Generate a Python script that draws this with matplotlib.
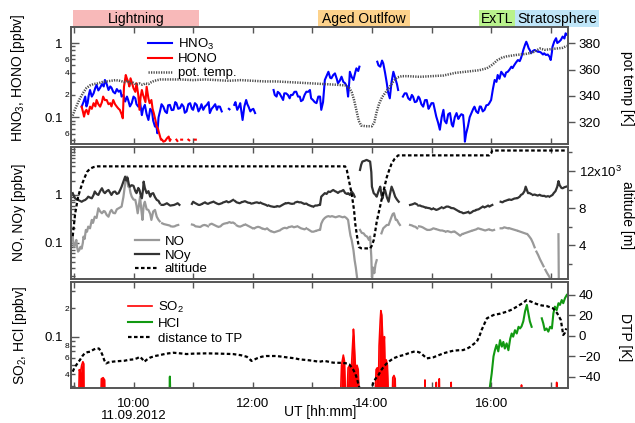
import numpy as np
import matplotlib.pyplot as plt
from matplotlib.patches import Rectangle

plt.rcParams['font.family'] = ['Liberation Sans', 'DejaVu Sans']
plt.rcParams['mathtext.fontset'] = 'custom'
plt.rcParams['mathtext.rm'] = 'Liberation Sans'
plt.rcParams['mathtext.it'] = 'Liberation Sans:italic'
plt.rcParams['mathtext.bf'] = 'Liberation Sans:bold'

nan = np.nan

# flight phases (UT in hours)
phase_names = ['Lightning', 'Aged Outlfow', 'ExTL', 'Stratosphere']
phase_start = [8.98, 13.10, 15.80, 16.40]
phase_end = [11.10, 14.64, 16.40, 17.81]
phase_colors = ['#f8b9b9', '#fdd28b', '#b9f28c', '#bfe5f8']

hour_ticks = [9, 10, 11, 12, 13, 14, 15, 16, 17]
hour_labels = ['', '10:00\n11.09.2012', '', '12:00', '', '14:00', '', '16:00', '']

# ---- top panel: HNO3, HONO [ppbv], potential temperature [K]
hno3 = [
    (9.13, 0.139), (9.16, 0.16), (9.19, 0.19), (9.21, 0.14), (9.23, 0.155), (9.25, 0.20),
    (9.27, 0.233), (9.30, 0.19), (9.33, 0.21), (9.36, 0.25), (9.38, 0.272), (9.41, 0.23),
    (9.44, 0.25), (9.47, 0.28), (9.50, 0.26), (9.52, 0.318), (9.55, 0.28), (9.58, 0.233),
    (9.61, 0.26), (9.63, 0.25), (9.66, 0.22), (9.69, 0.21), (9.72, 0.24), (9.75, 0.221),
    (9.78, 0.23), (9.80, 0.19), (9.83, 0.20), (9.86, 0.163), (9.89, 0.19), (9.91, 0.171),
    (9.94, 0.14), (9.97, 0.155), (10.00, 0.19), (10.03, 0.18), (10.05, 0.15), (10.08, 0.139),
    (10.11, 0.16), (10.14, 0.107), (10.16, 0.13), (10.19, 0.147), (10.22, 0.11), (10.25, 0.092),
    (10.28, 0.13), (10.31, 0.12), (10.33, 0.09), (10.36, 0.075), (10.38, 0.08), (10.40, 0.061),
    (10.42, 0.10), (10.45, 0.126), (10.47, 0.15), (10.50, 0.139), (10.53, 0.12), (10.56, 0.114),
    (10.58, 0.145), (10.61, 0.147), (10.64, 0.125), (10.67, 0.126), (10.70, 0.16), (10.72, 0.155),
    (10.75, 0.13), (10.78, 0.133), (10.81, 0.15), (10.84, 0.139), (10.86, 0.115), (10.89, 0.12),
    (10.92, 0.15), (10.95, 0.155), (10.98, 0.13), (11.00, 0.126), (11.03, 0.155), (11.06, 0.147),
    (11.09, 0.12), (11.12, 0.133), (11.14, 0.15), (11.17, 0.126), (11.20, 0.14), (11.23, 0.147),
    (11.26, 0.16), (11.28, 0.114), (11.31, 0.13), (11.34, 0.139), (11.37, 0.15), (11.40, 0.126),
    (11.42, 0.14), (11.45, 0.139), (11.48, 0.12), (11.54, nan), (11.60, 0.13), (11.61, 0.128),
    (11.65, nan), (11.69, 0.147), (11.71, 0.16), (11.74, 0.126), (11.77, 0.14), (11.79, 0.155),
    (11.81, 0.12), (11.83, 0.092), (11.86, 0.14), (11.89, 0.171), (11.91, 0.15), (11.93, 0.139),
    (11.96, 0.12), (11.98, 0.126), (12.01, 0.13), (12.04, 0.114), (12.20, nan),
    (12.35, 0.233), (12.37, 0.20), (12.40, 0.19), (12.42, 0.22), (12.45, 0.21), (12.48, 0.19),
    (12.51, 0.171), (12.53, 0.21), (12.56, 0.21), (12.59, 0.20), (12.62, 0.18), (12.64, 0.20),
    (12.67, 0.20), (12.70, 0.22), (12.73, 0.221), (12.76, 0.19), (12.79, 0.19), (12.81, 0.165),
    (12.84, 0.171), (12.87, 0.20), (12.90, 0.221), (12.93, 0.22), (12.96, 0.233), (12.98, 0.18),
    (13.01, 0.171), (13.04, 0.16), (13.07, 0.155), (13.10, 0.19), (13.13, 0.19), (13.15, 0.126),
    (13.18, 0.16), (13.21, 0.318), (13.24, 0.36), (13.27, 0.41), (13.30, 0.34), (13.32, 0.335),
    (13.35, 0.37), (13.38, 0.39), (13.41, 0.33), (13.43, 0.287), (13.46, 0.31), (13.49, 0.352),
    (13.52, 0.30), (13.55, 0.287), (13.58, 0.26), (13.60, 0.19), (13.62, 0.30), (13.63, 0.41),
    (13.66, 0.35), (13.69, 0.318), (13.72, 0.40), (13.74, 0.456), (13.77, 0.42), (13.79, 0.48),
    (13.95, nan), (14.09, 0.56), (14.11, 0.50), (14.14, 0.48), (14.17, 0.58), (14.19, 0.533),
    (14.22, 0.40), (14.25, 0.287), (14.27, 0.22), (14.30, 0.18), (14.33, 0.30), (14.36, 0.41),
    (14.38, 0.36), (14.40, 0.318), (14.42, 0.28), (14.44, 0.233), (14.48, nan),
    (14.52, 0.19), (14.55, 0.21), (14.58, 0.21), (14.61, 0.18), (14.64, 0.171), (14.67, 0.20),
    (14.69, 0.19), (14.72, 0.16), (14.75, 0.163), (14.78, 0.19), (14.80, 0.18), (14.83, 0.15),
    (14.86, 0.139), (14.89, 0.17), (14.92, 0.171), (14.95, 0.13), (14.97, 0.139), (15.00, 0.155),
    (15.03, 0.155), (15.06, 0.12), (15.08, 0.102), (15.11, 0.085), (15.14, 0.068), (15.17, 0.10),
    (15.20, 0.126), (15.22, 0.09), (15.25, 0.083), (15.28, 0.11), (15.31, 0.114), (15.34, 0.08),
    (15.36, 0.075), (15.39, 0.10), (15.42, 0.114), (15.45, 0.095), (15.47, 0.102), (15.50, 0.11),
    (15.53, 0.107), (15.55, 0.07), (15.56, 0.047), (15.58, 0.06), (15.61, 0.075), (15.64, 0.10),
    (15.67, 0.114), (15.70, 0.13), (15.72, 0.139), (15.75, 0.12), (15.78, 0.114), (15.81, 0.14),
    (15.83, 0.139), (15.86, 0.12), (15.89, 0.126), (15.92, 0.145), (15.95, 0.147), (15.97, 0.155),
    (16.00, 0.171), (16.03, 0.24), (16.06, 0.318), (16.09, 0.30), (16.11, 0.371), (16.14, 0.33),
    (16.17, 0.41), (16.20, 0.38), (16.23, 0.352), (16.25, 0.40), (16.28, 0.41), (16.31, 0.44),
    (16.34, 0.48), (16.36, 0.46), (16.39, 0.506), (16.42, 0.55), (16.45, 0.59), (16.48, 0.57),
    (16.50, 0.622), (16.52, 0.70), (16.54, 0.805), (16.57, 0.95), (16.59, 1.04), (16.61, 0.95),
    (16.63, 0.85), (16.65, 0.80), (16.67, 0.727), (16.70, 0.78), (16.73, 0.805), (16.76, 0.78),
    (16.79, 0.76), (16.81, 0.764), (16.84, 0.74), (16.87, 0.70), (16.89, 0.727), (16.92, 0.69),
    (16.95, 0.70), (16.98, 0.654), (17.00, 0.59), (17.02, 0.75), (17.03, 0.89), (17.06, 1.05),
    (17.09, 1.16), (17.11, 1.00), (17.14, 1.04), (17.17, 1.10), (17.20, 1.22), (17.23, 1.15),
    (17.25, 1.35), (17.27, 1.30),
]

hono = [
    (9.13, 0.139), (9.15, 0.12), (9.17, 0.102), (9.19, 0.12), (9.21, 0.126), (9.24, 0.11),
    (9.27, 0.139), (9.30, 0.13), (9.33, 0.155), (9.36, 0.14), (9.38, 0.171), (9.41, 0.15),
    (9.44, 0.139), (9.47, 0.16), (9.49, 0.19), (9.52, 0.17), (9.55, 0.171), (9.58, 0.15),
    (9.61, 0.155), (9.63, 0.14), (9.66, 0.171), (9.69, 0.15), (9.72, 0.139), (9.75, 0.13),
    (9.77, 0.126), (9.80, 0.11), (9.82, 0.097), (9.84, 0.258), (9.87, 0.371), (9.89, 0.33),
    (9.91, 0.302), (9.93, 0.26), (9.95, 0.335), (9.98, 0.28), (10.00, 0.246), (10.03, 0.22),
    (10.05, 0.287), (10.08, 0.20), (10.10, 0.126), (10.12, 0.19), (10.14, 0.233), (10.16, 0.20),
    (10.17, 0.19), (10.20, 0.16), (10.22, 0.258), (10.25, 0.18), (10.27, 0.155), (10.30, 0.171),
    (10.32, 0.13), (10.34, 0.114), (10.37, 0.09), (10.39, 0.075), (10.41, 0.07), (10.43, 0.061),
    (10.46, 0.05), (10.48, 0.05), (10.50, 0.047), (10.53, 0.048), (10.56, 0.052), (10.59, 0.055),
    (10.61, 0.048), (10.62, 0.05), (10.67, nan), (10.72, 0.05), (10.735, 0.048), (10.76, nan),
    (10.80, 0.05), (10.815, 0.05), (10.86, nan), (10.92, 0.05), (10.935, 0.049), (10.98, nan),
    (11.03, 0.05), (11.045, 0.05),
]

pot_temp = [
    (8.98, 325), (9.02, 330), (9.06, 334), (9.10, 338), (9.15, 342), (9.21, 346), (9.27, 348),
    (9.33, 349), (9.40, 349.5), (9.47, 350.5), (9.55, 351), (9.62, 351.5), (9.70, 352),
    (9.77, 351.5), (9.85, 350.5), (9.90, 351.5), (9.95, 349.5), (10.00, 350), (10.05, 348.5),
    (10.10, 349.5), (10.15, 348.5), (10.20, 349.5), (10.25, 349), (10.30, 350.5), (10.35, 351.5),
    (10.40, 352), (10.45, 352.5), (10.60, 352.5), (10.80, 352.5), (11.00, 352), (11.20, 352.5),
    (11.40, 352), (11.60, 351.5), (11.80, 352), (12.00, 351.5), (12.20, 351), (12.40, 351),
    (12.60, 350.5), (12.80, 350), (13.00, 349.5), (13.20, 349), (13.40, 348.5), (13.55, 348),
    (13.62, 346), (13.66, 343), (13.70, 337), (13.74, 329), (13.78, 321), (13.82, 317.5),
    (13.90, 317), (14.00, 317), (14.04, 320), (14.08, 328), (14.12, 334), (14.17, 339),
    (14.25, 344), (14.30, 347), (14.36, 351), (14.42, 354), (14.50, 355), (14.60, 355),
    (14.80, 354.5), (15.00, 355), (15.20, 355.5), (15.30, 356.5), (15.40, 357.5), (15.60, 358.5),
    (15.80, 359.5), (15.93, 361), (16.00, 363), (16.04, 364.5), (16.10, 367), (16.18, 369),
    (16.26, 370), (16.40, 371), (16.60, 372), (16.70, 373), (16.82, 376), (16.90, 375),
    (17.00, 375.5), (17.10, 376), (17.20, 376.5), (17.27, 378),
]

# ---- middle panel: NO, NOy [ppbv], altitude [m]
noy = [
    (8.98, 1.09), (9.00, 0.95), (9.02, 0.85), (9.05, 0.80), (9.07, 0.786), (9.10, 0.75),
    (9.13, 0.72), (9.16, 0.76), (9.19, 0.786), (9.22, 0.85), (9.24, 0.92), (9.27, 0.88),
    (9.30, 0.85), (9.33, 1.00), (9.35, 1.18), (9.38, 1.05), (9.41, 1.00), (9.44, 1.20),
    (9.47, 1.38), (9.50, 1.15), (9.52, 1.09), (9.55, 1.20), (9.58, 1.27), (9.61, 1.10),
    (9.63, 1.00), (9.66, 1.15), (9.69, 1.18), (9.72, 1.05), (9.75, 1.09), (9.78, 1.30),
    (9.80, 1.49), (9.83, 1.90), (9.86, 2.42), (9.88, 2.00), (9.90, 2.30), (9.92, 1.70),
    (9.94, 1.49), (9.97, 1.60), (10.00, 1.55), (10.03, 1.20), (10.05, 1.09), (10.08, 1.40),
    (10.10, 1.27), (10.12, 1.00), (10.14, 0.85), (10.16, 1.30), (10.17, 1.90), (10.19, 1.40),
    (10.22, 1.09), (10.25, 1.20), (10.28, 0.92), (10.30, 1.05), (10.33, 1.09), (10.36, 0.90),
    (10.39, 0.786), (10.42, 0.75), (10.44, 0.67), (10.455, nan), (10.47, 0.62), (10.50, 0.617),
    (10.53, 0.64), (10.56, 0.67), (10.59, 0.63), (10.605, nan), (10.62, 0.60), (10.65, 0.61),
    (10.68, 0.617), (10.71, 0.64), (10.74, 0.67), (10.77, 0.62), (10.85, nan),
    (10.98, 0.65), (11.00, 0.72), (11.03, 0.68), (11.06, 0.65), (11.09, 0.62), (11.11, 0.617),
    (11.14, 0.64), (11.155, nan), (11.17, 0.67), (11.20, 0.70), (11.22, 0.67), (11.25, 0.65),
    (11.28, 0.68), (11.31, 0.70), (11.34, 0.72), (11.355, nan), (11.37, 0.69), (11.40, 0.66),
    (11.43, 0.64), (11.45, 0.65), (11.48, 0.67), (11.495, nan), (11.51, 0.70), (11.54, 0.72),
    (11.56, 0.74), (11.59, 0.70), (11.62, 0.72), (11.65, 0.76), (11.67, 0.786), (11.685, nan),
    (11.70, 0.75), (11.73, 0.70), (11.76, 0.68), (11.78, 0.67), (11.81, 0.70), (11.825, nan),
    (11.84, 0.72), (11.87, 0.74), (11.89, 0.72), (11.92, 0.69), (11.95, 0.68), (11.965, nan),
    (11.98, 0.66), (12.01, 0.67), (12.04, 0.69), (12.07, 0.70), (12.10, 0.68), (12.115, nan),
    (12.13, 0.69), (12.16, 0.66), (12.19, 0.64), (12.22, 0.62), (12.24, 0.60), (12.255, nan),
    (12.27, 0.60), (12.30, 0.58), (12.33, 0.57), (12.36, 0.56), (12.39, 0.57), (12.405, nan),
    (12.42, 0.58), (12.45, 0.57), (12.48, 0.60), (12.51, 0.63), (12.54, 0.66), (12.555, nan),
    (12.57, 0.67), (12.60, 0.68), (12.63, 0.66), (12.66, 0.65), (12.69, 0.66), (12.705, nan),
    (12.72, 0.70), (12.75, 0.72), (12.78, 0.70), (12.81, 0.70), (12.84, 0.67), (12.855, nan),
    (12.87, 0.65), (12.90, 0.66), (12.93, 0.62), (12.96, 0.60), (12.99, 0.58), (13.005, nan),
    (13.02, 0.57), (13.05, 0.60), (13.08, 0.60), (13.11, 0.617), (13.13, 0.617), (13.15, 0.92),
    (13.18, 1.00), (13.21, 1.09), (13.24, 1.05), (13.27, 1.18), (13.30, 1.15), (13.32, 1.20),
    (13.35, 1.27), (13.38, 1.20), (13.41, 1.15), (13.43, 1.10), (13.46, 1.18), (13.49, 1.20),
    (13.52, 1.27), (13.55, 1.10), (13.58, 1.05), (13.60, 1.09), (13.63, 1.00), (13.66, 1.18),
    (13.69, 1.05), (13.71, 0.92), (13.76, nan), (13.80, 3.34), (13.82, 4.30), (13.84, 5.00),
    (13.88, 5.20), (13.91, 5.42), (13.94, 5.20), (13.97, 5.00), (13.99, 3.00), (14.00, 1.49),
    (14.03, 1.09), (14.06, 1.00), (14.08, 0.92), (14.10, 1.10), (14.12, 1.30), (14.14, 1.49),
    (14.16, 1.00), (14.18, 0.85), (14.20, 1.20), (14.22, 1.27), (14.25, 0.90), (14.28, 0.72),
    (14.30, 1.00), (14.33, 1.49), (14.36, 1.20), (14.39, 0.92), (14.42, 0.80), (14.45, 0.72),
    (14.55, nan), (14.64, 0.617), (14.67, 0.63), (14.70, 0.65), (14.72, 0.67), (14.75, 0.64),
    (14.765, nan), (14.78, 0.60), (14.81, 0.60), (14.83, 0.58), (14.86, 0.57), (14.89, 0.55),
    (14.905, nan), (14.92, 0.54), (14.95, 0.53), (14.97, 0.526), (15.00, 0.50), (15.03, 0.52),
    (15.045, nan), (15.06, 0.50), (15.08, 0.485), (15.11, 0.50), (15.14, 0.526), (15.17, 0.55),
    (15.185, nan), (15.20, 0.53), (15.23, 0.55), (15.25, 0.57), (15.28, 0.57), (15.31, 0.55),
    (15.325, nan), (15.34, 0.53), (15.37, 0.526), (15.40, 0.50), (15.42, 0.485), (15.45, 0.46),
    (15.465, nan), (15.48, 0.44), (15.51, 0.43), (15.53, 0.413), (15.56, 0.42), (15.59, 0.43),
    (15.605, nan), (15.62, 0.44), (15.64, 0.413), (15.67, 0.43), (15.70, 0.46), (15.73, 0.47),
    (15.745, nan), (15.76, 0.49), (15.79, 0.50), (15.81, 0.52), (15.84, 0.55), (15.86, 0.57),
    (15.875, nan), (15.89, 0.55), (15.92, 0.57), (15.95, 0.60), (15.97, 0.57), (16.00, 0.60),
    (16.02, 0.617), (16.09, nan), (16.16, 0.72), (16.19, 0.70), (16.22, 0.74), (16.25, 0.76),
    (16.28, 0.786), (16.295, nan), (16.31, 0.80), (16.34, 0.786), (16.37, 0.82), (16.39, 0.84),
    (16.42, 0.85), (16.435, nan), (16.45, 0.87), (16.48, 0.92), (16.50, 1.00), (16.53, 1.05),
    (16.56, 1.20), (16.58, 1.49), (16.60, 1.27), (16.62, 1.09), (16.64, 1.10), (16.67, 1.05),
    (16.685, nan), (16.70, 1.00), (16.73, 1.02), (16.75, 1.00), (16.78, 0.97), (16.81, 1.00),
    (16.825, nan), (16.84, 0.97), (16.87, 0.95), (16.89, 0.96), (16.92, 0.92), (16.95, 0.94),
    (16.965, nan), (16.98, 0.92), (17.00, 0.95), (17.03, 1.00), (17.05, 1.09), (17.08, 1.20),
    (17.11, 1.49), (17.13, 1.95), (17.15, 1.60), (17.18, 1.40), (17.20, 1.38), (17.23, 1.45),
    (17.26, 1.49),
]

no = [
    (8.98, 0.134), (8.99, 0.10), (9.00, 0.082), (9.02, 0.09), (9.04, 0.114), (9.05, 0.085),
    (9.07, 0.065), (9.09, 0.07), (9.11, 0.082), (9.13, 0.075), (9.15, 0.10), (9.16, 0.134),
    (9.18, 0.12), (9.20, 0.185), (9.22, 0.17), (9.24, 0.217), (9.27, 0.20), (9.30, 0.30),
    (9.32, 0.26), (9.35, 0.35), (9.38, 0.33), (9.41, 0.526), (9.44, 0.45), (9.47, 0.413),
    (9.50, 0.46), (9.52, 0.45), (9.55, 0.38), (9.58, 0.35), (9.61, 0.45), (9.63, 0.485),
    (9.66, 0.42), (9.69, 0.413), (9.72, 0.50), (9.75, 0.526), (9.78, 0.55), (9.80, 0.57),
    (9.83, 0.90), (9.86, 1.76), (9.89, 2.42), (9.91, 1.50), (9.93, 1.49), (9.95, 1.10),
    (9.97, 0.92), (10.00, 0.80), (10.03, 0.786), (10.05, 0.60), (10.07, 0.413), (10.09, 0.60),
    (10.11, 0.92), (10.13, 0.50), (10.15, 0.30), (10.17, 0.60), (10.19, 0.72), (10.22, 0.50),
    (10.25, 0.485), (10.28, 0.40), (10.30, 0.30), (10.33, 0.45), (10.36, 0.485), (10.39, 0.35),
    (10.42, 0.30), (10.44, 0.28), (10.46, nan), (10.48, 0.255), (10.51, 0.245), (10.54, 0.24),
    (10.57, 0.235), (10.60, 0.23), (10.615, nan), (10.63, 0.22), (10.66, 0.217), (10.69, 0.22),
    (10.72, 0.23), (10.75, 0.235), (10.85, nan), (10.98, 0.24), (11.01, 0.235), (11.04, 0.22),
    (11.07, 0.217), (11.10, 0.215), (11.115, nan), (11.13, 0.217), (11.16, 0.23), (11.19, 0.235),
    (11.22, 0.23), (11.25, 0.22), (11.265, nan), (11.28, 0.24), (11.31, 0.25), (11.34, 0.24),
    (11.37, 0.23), (11.40, 0.22), (11.415, nan), (11.43, 0.215), (11.46, 0.22), (11.49, 0.24),
    (11.52, 0.25), (11.55, 0.255), (11.565, nan), (11.58, 0.26), (11.61, 0.27), (11.64, 0.26),
    (11.67, 0.265), (11.70, 0.25), (11.715, nan), (11.73, 0.23), (11.76, 0.22), (11.79, 0.217),
    (11.82, 0.225), (11.85, 0.235), (11.865, nan), (11.88, 0.24), (11.91, 0.23), (11.94, 0.22),
    (11.97, 0.21), (12.00, 0.20), (12.015, nan), (12.03, 0.20), (12.06, 0.21), (12.09, 0.215),
    (12.12, 0.21), (12.15, 0.20), (12.165, nan), (12.18, 0.195), (12.21, 0.19), (12.24, 0.20),
    (12.27, 0.185), (12.30, 0.175), (12.315, nan), (12.33, 0.17), (12.36, 0.165), (12.39, 0.17),
    (12.42, 0.175), (12.45, 0.18), (12.465, nan), (12.48, 0.19), (12.51, 0.20), (12.54, 0.205),
    (12.57, 0.20), (12.60, 0.21), (12.615, nan), (12.63, 0.215), (12.66, 0.22), (12.69, 0.21),
    (12.72, 0.215), (12.75, 0.22), (12.765, nan), (12.78, 0.21), (12.81, 0.20), (12.84, 0.195),
    (12.87, 0.19), (12.90, 0.20), (12.915, nan), (12.93, 0.19), (12.96, 0.18), (12.99, 0.17),
    (13.02, 0.17), (13.05, 0.175), (13.065, nan), (13.08, 0.18), (13.11, 0.185), (13.13, 0.185),
    (13.15, 0.25), (13.18, 0.30), (13.21, 0.33), (13.24, 0.35), (13.27, 0.36), (13.30, 0.35),
    (13.33, 0.36), (13.36, 0.35), (13.39, 0.34), (13.42, 0.35), (13.45, 0.36), (13.48, 0.35),
    (13.51, 0.34), (13.54, 0.35), (13.57, 0.33), (13.60, 0.30), (13.62, 0.20), (13.64, 0.14),
    (13.66, 0.114), (13.69, 0.07), (13.71, 0.043), (13.73, 0.03), (13.75, 0.019), (13.77, nan),
    (13.80, 0.185), (13.83, 0.16), (13.86, 0.157), (13.89, 0.14), (13.92, 0.134), (13.95, 0.114),
    (13.97, 0.134), (13.99, 0.05), (14.00, 0.019), (14.02, 0.03), (14.04, 0.023), (14.06, 0.035),
    (14.08, 0.043), (14.12, nan), (14.16, 0.157), (14.19, 0.20), (14.22, 0.217), (14.25, 0.235),
    (14.28, 0.235), (14.31, 0.30), (14.33, 0.35), (14.35, 0.40), (14.37, 0.413), (14.40, 0.30),
    (14.42, 0.30), (14.45, 0.255), (14.47, 0.235), (14.55, nan), (14.64, 0.235), (14.67, 0.23),
    (14.70, 0.22), (14.73, 0.215), (14.76, 0.20), (14.775, nan), (14.79, 0.22), (14.82, 0.217),
    (14.85, 0.21), (14.88, 0.20), (14.91, 0.19), (14.925, nan), (14.94, 0.185), (14.97, 0.185),
    (15.00, 0.19), (15.03, 0.20), (15.06, 0.195), (15.075, nan), (15.09, 0.19), (15.12, 0.185),
    (15.15, 0.18), (15.18, 0.18), (15.21, 0.175), (15.225, nan), (15.24, 0.17), (15.27, 0.175),
    (15.30, 0.17), (15.33, 0.165), (15.36, 0.17), (15.375, nan), (15.39, 0.17), (15.42, 0.16),
    (15.45, 0.15), (15.48, 0.14), (15.51, 0.15), (15.525, nan), (15.54, 0.155), (15.57, 0.16),
    (15.60, 0.165), (15.63, 0.17), (15.66, 0.175), (15.675, nan), (15.69, 0.18), (15.72, 0.185),
    (15.75, 0.19), (15.78, 0.20), (15.81, 0.195), (15.825, nan), (15.84, 0.19), (15.87, 0.185),
    (15.90, 0.18), (15.93, 0.185), (15.96, 0.19), (15.975, nan), (15.99, 0.185), (16.02, 0.18),
    (16.05, 0.185), (16.10, nan), (16.16, 0.20), (16.19, 0.20), (16.22, 0.21), (16.25, 0.205),
    (16.28, 0.20), (16.295, nan), (16.31, 0.20), (16.34, 0.195), (16.37, 0.19), (16.40, 0.185),
    (16.43, 0.18), (16.445, nan), (16.46, 0.175), (16.49, 0.17), (16.52, 0.165), (16.55, 0.16),
    (16.58, 0.155), (16.595, nan), (16.61, 0.15), (16.64, 0.135), (16.67, 0.12), (16.70, 0.10),
    (16.73, 0.08), (16.745, nan), (16.76, 0.065), (16.79, 0.055), (16.82, 0.045), (16.85, 0.038),
    (16.88, 0.032), (16.895, nan), (16.91, 0.027), (16.94, 0.023), (16.97, 0.02), (16.99, 0.018),
    (17.05, nan), (17.13, 0.15), (17.135, 0.019),
]

altitude = [
    (8.98, 5000), (9.00, 6200), (9.02, 7400), (9.05, 8500), (9.07, 9200), (9.10, 9900),
    (9.14, 10650), (9.18, 11300), (9.22, 11900), (9.27, 12250), (9.33, 12420), (9.40, 12500),
    (13.55, 12500), (13.58, 12070), (13.62, 10800), (13.66, 9570), (13.70, 7800), (13.72, 6360),
    (13.75, 5000), (13.78, 3850), (13.82, 3700), (13.97, 3680), (14.00, 4000), (14.03, 4570),
    (14.06, 5700), (14.08, 6530), (14.12, 7700), (14.16, 8860), (14.20, 10000), (14.25, 11350),
    (14.29, 12100), (14.33, 12790), (14.38, 13300), (14.44, 13680), (15.97, 13680), (16.00, 13900),
    (16.02, 14200), (17.27, 14200),
]

# ---- bottom panel: SO2, HCl [ppbv], distance to tropopause [K]
so2 = [
    (9.08, 0.02), (9.09, 0.045), (9.11, 0.042), (9.13, 0.05), (9.15, 0.0545), (9.165, 0.052),
    (9.17, 0.02), (9.45, 0.02), (9.46, 0.036), (9.49, 0.037), (9.515, 0.035), (9.52, 0.02),
    (13.37, 0.02), (13.38, 0.029), (13.39, 0.02), (13.47, 0.02), (13.49, 0.05), (13.52, 0.064),
    (13.54, 0.055), (13.56, 0.02), (13.58, 0.02), (13.60, 0.047), (13.63, 0.05), (13.65, 0.04),
    (13.67, 0.07), (13.69, 0.12), (13.70, 0.10), (13.715, 0.06), (13.73, 0.04), (13.75, 0.05),
    (13.77, 0.045), (13.79, 0.02), (14.05, 0.02), (14.07, 0.045), (14.09, 0.047), (14.11, 0.03),
    (14.12, 0.08), (14.14, 0.15), (14.15, 0.188), (14.165, 0.17), (14.18, 0.10), (14.19, 0.07),
    (14.21, 0.10), (14.22, 0.05), (14.24, 0.057), (14.26, 0.05), (14.28, 0.02), (14.34, 0.02),
    (14.35, 0.037), (14.37, 0.039), (14.39, 0.036), (14.40, 0.02), (14.885, 0.02), (14.89, 0.035),
    (14.895, 0.02), (15.075, 0.02), (15.08, 0.033), (15.085, 0.02), (15.125, 0.02), (15.13, 0.036),
    (15.14, 0.02), (15.325, 0.02), (15.33, 0.033), (15.335, 0.02), (16.505, 0.02), (16.51, 0.031),
    (16.515, 0.02), (17.095, 0.02), (17.10, 0.033), (17.105, 0.02),
]

hcl = [
    (10.60, 0.02), (10.61, 0.038), (10.62, 0.02), (13.0, nan),
    (15.98, 0.0298), (16.01, 0.041), (16.04, 0.062), (16.065, 0.0725), (16.09, 0.082),
    (16.12, 0.07), (16.15, 0.092), (16.18, 0.0785), (16.205, 0.088), (16.23, 0.075),
    (16.26, 0.085), (16.29, 0.072), (16.32, 0.095), (16.345, 0.108), (16.37, 0.10),
    (16.40, 0.117), (16.43, 0.108), (16.46, 0.127), (16.485, 0.122), (16.51, 0.128),
    (16.54, 0.145), (16.57, 0.185), (16.60, 0.216), (16.625, 0.176), (16.65, 0.145),
    (16.68, 0.127), (16.76, nan), (16.85, 0.156), (16.875, 0.138), (16.90, 0.117),
    (16.93, 0.122), (16.96, 0.113), (16.99, 0.127), (17.02, 0.122), (17.045, 0.176),
    (17.07, 0.207), (17.10, 0.19), (17.13, 0.225), (17.155, 0.216), (17.185, 0.243),
    (17.21, 0.225), (17.24, 0.255), (17.27, 0.275),
]

dtp = [
    (8.98, -35.1), (9.01, -31), (9.04, -28.6), (9.07, -26), (9.10, -23.7), (9.14, -20),
    (9.18, -17.2), (9.23, -16), (9.27, -15.6), (9.33, -13.5), (9.38, -12.3), (9.42, -12.5),
    (9.45, -15), (9.48, -19), (9.51, -24), (9.54, -27), (9.58, -26), (9.64, -25.4),
    (9.70, -25), (9.77, -24.7), (9.85, -24.4), (9.92, -23.5), (10.00, -23.1), (10.06, -22),
    (10.11, -20.5), (10.15, -23), (10.18, -25.4), (10.22, -23.5), (10.28, -21.3), (10.36, -19.8),
    (10.44, -18.9), (10.55, -17.5), (10.67, -16.6), (10.78, -17.2), (10.89, -17.9), (11.00, -17.5),
    (11.23, -17.2), (11.45, -17.5), (11.67, -17.9), (11.80, -19), (11.90, -20.5), (11.95, -23),
    (11.98, -24.6), (12.02, -23.5), (12.07, -22.1), (12.15, -20.5), (12.23, -19.8), (12.40, -19.8),
    (12.57, -21.1), (12.70, -22), (12.79, -23.1), (12.95, -24), (13.12, -25.4), (13.20, -24.5),
    (13.35, -26.3), (13.50, -26.5), (13.58, -27), (13.62, -28), (13.66, -30.9), (13.69, -33.5),
    (13.72, -36.8), (13.75, -42), (13.77, -46.5), (13.80, -53), (13.90, -58), (13.98, -54),
    (14.02, -46.5), (14.06, -42), (14.11, -38.4), (14.15, -34), (14.19, -30.9), (14.24, -27.5),
    (14.28, -25.4), (14.36, -22.1), (14.45, -20), (14.53, -18.9), (14.62, -17), (14.70, -15.6),
    (14.77, -15.8), (14.81, -16.6), (14.86, -19), (14.92, -22.1), (15.03, -21.1), (15.12, -19),
    (15.20, -17.2), (15.30, -15.5), (15.37, -14.6), (15.45, -14.2), (15.53, -14.0), (15.60, -12.5),
    (15.65, -10.8), (15.71, -8), (15.76, -5.8), (15.80, -1), (15.84, 5.5), (15.89, 12),
    (15.93, 17), (16.04, 20.2), (16.15, 21.5), (16.26, 23.4), (16.35, 25.5), (16.43, 28.3),
    (16.52, 31.5), (16.60, 34.8), (16.68, 33), (16.76, 31), (16.85, 29.5), (16.93, 29),
    (17.04, 26.7), (17.11, 21.8), (17.17, 15.3), (17.19, 8), (17.21, 0.7), (17.24, 3),
    (17.26, 7.2),
]


def xy(series):
    arr = np.array(series, dtype=float)
    return arr[:, 0], arr[:, 1]


def log_minors(lo, hi):
    vals = [k * 10.0 ** e for e in range(-3, 2) for k in range(2, 10)]
    return [v for v in vals if lo <= v <= hi]


W, H = 635.0, 423.0
FRAME = '#555555'
FS = 9.5


def box(x0, y0, x1, y1):
    return [x0 / W, 1 - y1 / H, (x1 - x0) / W, (y1 - y0) / H]


fig = plt.figure(figsize=(6.35, 4.23), dpi=100)
ax1 = fig.add_axes(box(71, 27.3, 567.7, 144))
ax2 = fig.add_axes(box(71, 146.7, 567.7, 279.3), sharex=ax1)
ax3 = fig.add_axes(box(71, 281.7, 567.7, 388.3), sharex=ax1)
ax1r = ax1.twinx()
ax2r = ax2.twinx()
ax3r = ax3.twinx()

# top panel
l1, = ax1.plot(*xy(hno3), color='#0000ff', lw=1.5, label='HNO$_3$')
l2, = ax1.plot(*xy(hono), color='#ff0000', lw=1.5, label='HONO')
l3, = ax1r.plot(*xy(pot_temp), color='#4d4d4d', lw=1.8, ls=(0, (0.5, 0.5)), label='pot. temp.')
ax1.set_yscale('log')
top_lim = (0.0437, 1.627)
ax1.set_yticks([0.1, 1])
ax1.set_yticklabels(['0.1', '1'])
top_minor = log_minors(*top_lim)
top_minor_names = {0.06: '6', 0.2: '2', 0.4: '4', 0.6: '6'}
ax1.set_yticks(top_minor, minor=True)
ax1.set_yticklabels([top_minor_names.get(round(v, 6), '') for v in top_minor], minor=True)
ax1.set_ylim(*top_lim)
ax1r.set_yticks([320, 340, 360, 380])
ax1r.set_ylim(303.5, 392.1)
ax1r.legend([l1, l2, l3], [l.get_label() for l in (l1, l2, l3)], loc='upper left',
            bbox_to_anchor=(148 / W, 1 - 36.5 / H), bbox_transform=fig.transFigure,
            frameon=False, fontsize=FS, handlelength=1.8, handletextpad=0.45,
            labelspacing=0.12, borderpad=0, borderaxespad=0)

for name, t0, t1, col in zip(phase_names, phase_start, phase_end, phase_colors):
    ax1.add_patch(Rectangle((t0, 1.005), t1 - t0, 0.139, transform=ax1.get_xaxis_transform(),
                            facecolor=col, edgecolor='none', clip_on=False))
    ax1.text((t0 + t1) / 2, 1.074, name, transform=ax1.get_xaxis_transform(),
             ha='center', va='center', fontsize=10, clip_on=False)

# middle panel
m1, = ax2.plot(*xy(no), color='#999999', lw=1.6, label='NO')
m2, = ax2.plot(*xy(noy), color='#333333', lw=1.6, label='NOy')
m3, = ax2r.plot(*xy(altitude), color='black', lw=1.6, ls=(0, (1.6, 1.1)), label='altitude')
ax2.set_yscale('log')
mid_lim = (0.0171, 10.24)
ax2.set_yticks([0.1, 1])
ax2.set_yticklabels(['0.1', '1'])
ax2.set_yticks(log_minors(*mid_lim), minor=True)
ax2.yaxis.set_minor_formatter(plt.NullFormatter())
ax2.set_ylim(*mid_lim)
ax2r.set_yticks([4000, 8000, 12000])
ax2r.set_yticklabels(['4', '8', '12x10$^3$'])
ax2r.set_yticks([2000, 6000, 10000, 14000], minor=True)
ax2r.set_ylim(370, 14610)
ax2r.legend([m1, m2, m3], [l.get_label() for l in (m1, m2, m3)], loc='upper left',
            bbox_to_anchor=(135 / W, 1 - 235.5 / H), bbox_transform=fig.transFigure,
            frameon=False, fontsize=FS, handlelength=1.8, handletextpad=0.45,
            labelspacing=0.12, borderpad=0, borderaxespad=0)

# bottom panel
st, sv = xy(so2)
ax3.fill_between(st, sv, 1e-3, color='#ff0000', lw=0)
b1, = ax3.plot(st, sv, color='#ff0000', lw=1.2, label='SO$_2$')
b2, = ax3.plot(*xy(hcl), color='#119911', lw=1.5, label='HCl')
b3, = ax3r.plot(*xy(dtp), color='black', lw=1.6, ls=(0, (1.6, 1.1)), label='distance to TP')
ax3.set_yscale('log')
bot_lim = (0.0286, 0.379)
ax3.set_yticks([0.1])
ax3.set_yticklabels(['0.1'])
bot_minor = log_minors(*bot_lim)
bot_minor_names = {0.04: '4', 0.06: '6', 0.08: '8', 0.2: '2'}
ax3.set_yticks(bot_minor, minor=True)
ax3.set_yticklabels([bot_minor_names.get(round(v, 6), '') for v in bot_minor], minor=True)
ax3.set_ylim(*bot_lim)
ax3r.set_yticks([-40, -20, 0, 20, 40])
ax3r.set_ylim(-51.3, 52.7)
ax3r.legend([b1, b2, b3], [l.get_label() for l in (b1, b2, b3)], loc='upper left',
            bbox_to_anchor=(128 / W, 1 - 300 / H), bbox_transform=fig.transFigure,
            frameon=False, fontsize=FS, handlelength=1.8, handletextpad=0.45,
            labelspacing=0.2, borderpad=0, borderaxespad=0)

# shared time axis
ax1.set_xticks(hour_ticks)
ax3.set_xticklabels(hour_labels)
ax1.set_xlim(8.951, 17.285)
for ax in (ax1, ax2, ax3):
    ax.tick_params(axis='x', which='both', direction='in', top=True, bottom=True,
                   length=4, width=1, color=FRAME, labelbottom=False)
    ax.tick_params(axis='y', which='major', direction='in', length=6, width=1,
                   color=FRAME, pad=6, labelsize=FS)
    ax.tick_params(axis='y', which='minor', direction='in', length=3, width=1,
                   color=FRAME, pad=1.2, labelsize=6)
ax3.tick_params(axis='x', labelbottom=True, labelsize=FS, pad=7)
for lab in ax3.get_xticklabels():
    lab.set_linespacing(1.0)
for ax in (ax1r, ax2r, ax3r):
    ax.tick_params(axis='y', which='both', direction='out', width=1, color=FRAME,
                   pad=3, labelsize=FS)
    ax.tick_params(axis='y', which='major', length=5)
    ax.tick_params(axis='y', which='minor', length=3)
for ax in (ax1, ax2, ax3, ax1r, ax2r, ax3r):
    for sp in ax.spines.values():
        sp.set_color(FRAME)
        sp.set_linewidth(1.2)

fig.text(18 / W, 1 - 78 / H, 'HNO$_3$, HONO [ppbv]', rotation=90, ha='center', va='center', fontsize=10)
fig.text(19 / W, 1 - 212 / H, 'NO, NOy [ppbv]', rotation=90, ha='center', va='center', fontsize=10)
fig.text(20 / W, 1 - 335 / H, 'SO$_2$, HCl [ppbv]', rotation=90, ha='center', va='center', fontsize=10)
fig.text(627 / W, 1 - 88 / H, 'pot temp [K]', rotation=-90, ha='center', va='center', fontsize=10)
fig.text(627 / W, 1 - 215 / H, 'altitude [m]', rotation=-90, ha='center', va='center', fontsize=10)
fig.text(625 / W, 1 - 337 / H, 'DTP [K]', rotation=-90, ha='center', va='center', fontsize=10)
fig.text(320 / W, 1 - 412 / H, 'UT [hh:mm]', ha='center', va='center', fontsize=10)

fig.savefig('out.png', dpi=100)
